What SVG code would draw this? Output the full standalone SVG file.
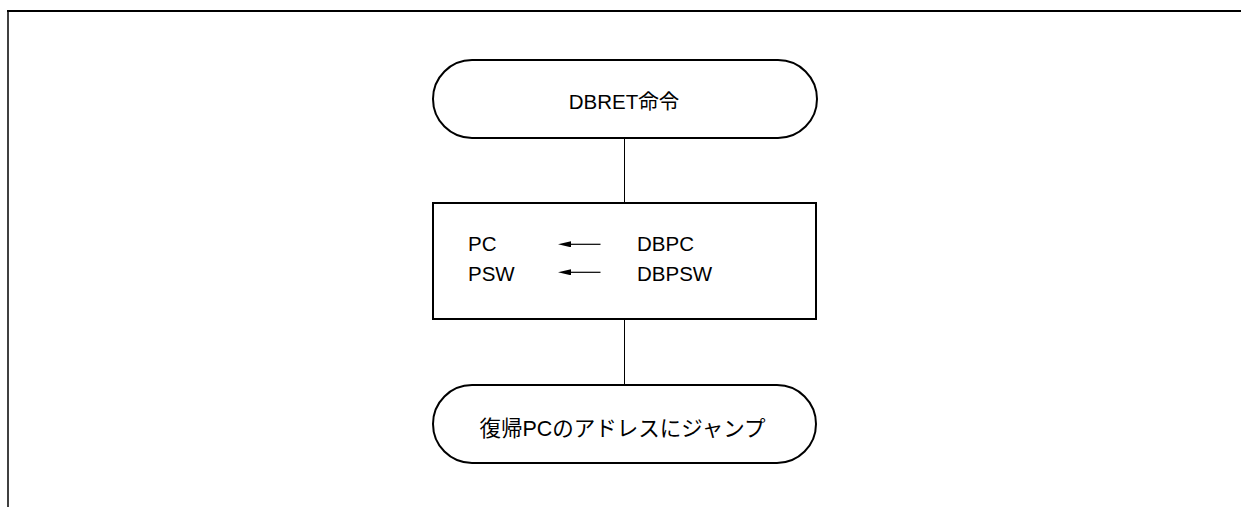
<svg xmlns="http://www.w3.org/2000/svg" width="1241" height="507" viewBox="0 0 1241 507">
  <style>
    .node { fill: #ffffff; stroke: #000000; stroke-width: 2; }
    .conn { stroke: #000000; stroke-width: 1; fill: none; }
    .frame { stroke: #000000; fill: none; }
    text { font-family: "Liberation Sans", "Noto Sans CJK JP", sans-serif; font-size: 20.5px; fill: #000000; }
  </style>
  <defs>
    <marker id="arr" viewBox="0 0 13 6" refX="0" refY="3" markerWidth="13" markerHeight="6" markerUnits="userSpaceOnUse" orient="auto-start-reverse">
      <path d="M0,0 L13,3 L0,6 Z" fill="#000000"/>
    </marker>
  </defs>
  <rect width="1241" height="507" fill="#ffffff"/>
  <g id="frame">
    <line class="frame" x1="7" y1="11" x2="1241" y2="11" stroke-width="2"/>
    <line class="frame" x1="8" y1="10" x2="8" y2="507" stroke-width="1.5"/>
  </g>
  <g id="connectors">
    <line class="conn" x1="624.5" y1="138" x2="624.5" y2="203"/>
    <line class="conn" x1="624.5" y1="319" x2="624.5" y2="385"/>
  </g>
  <g id="start">
    <rect class="node" x="433" y="60" width="384" height="78" rx="39" ry="39"/>
    <text x="624" y="109" text-anchor="middle">DBRET命令</text>
  </g>
  <g id="process">
    <rect class="node" x="433" y="203" width="383" height="116"/>
    <text x="468" y="251">PC</text>
    <text x="468" y="281">PSW</text>
    <line x1="600.5" y1="244.3" x2="571" y2="244.3" stroke="#000" stroke-width="1.2" marker-end="url(#arr)"/>
    <line x1="600.5" y1="272.3" x2="571" y2="272.3" stroke="#000" stroke-width="1.2" marker-end="url(#arr)"/>
    <text x="637" y="251">DBPC</text>
    <text x="637" y="281">DBPSW</text>
  </g>
  <g id="end">
    <rect class="node" x="433" y="385" width="383" height="78" rx="39" ry="39"/>
    <text x="622.5" y="436" text-anchor="middle" style="font-size:21.5px">復帰PCのアドレスにジャンプ</text>
  </g>
</svg>
